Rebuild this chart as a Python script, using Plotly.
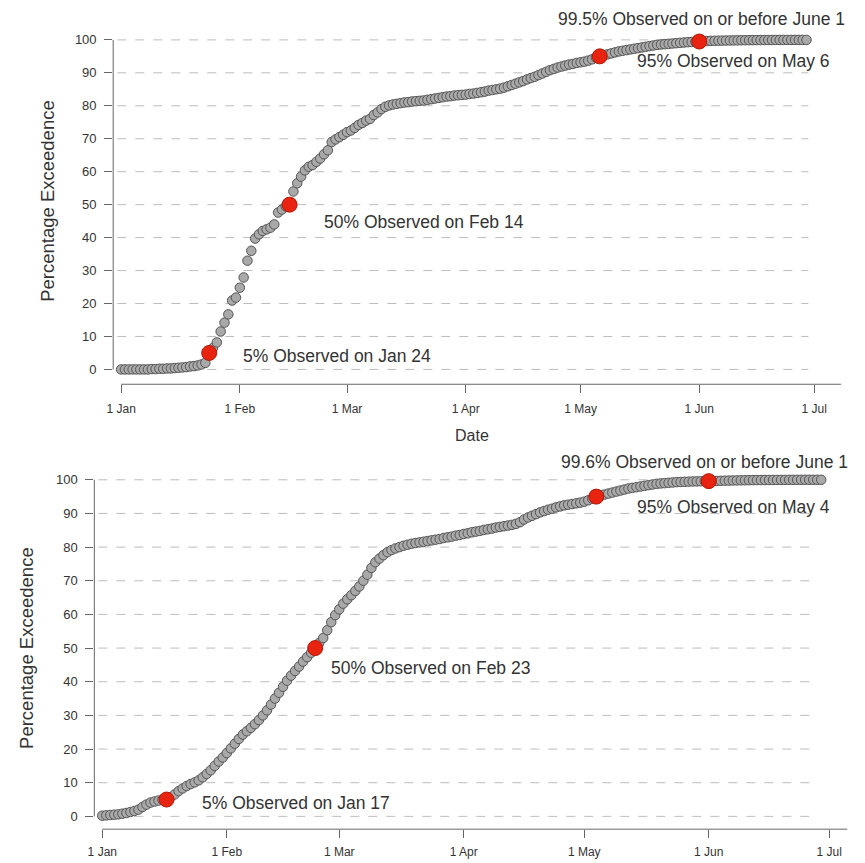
import pandas as pd
import plotly.graph_objects as go

# --- data (daily % exceedence) ---
START = "2015-01-01"

top_values = [
    0, 0, 0, 0, 0, 0, 0, 0, 0.1, 0.1, 0.2, 0.2, 0.3, 0.3, 0.4, 0.5, 0.6, 0.7, 0.9, 1.0, 1.2, 1.5, 2.0,
    5,
    6.5, 8.2, 11.5, 14.2, 16.7, 20.9, 21.8, 24.8, 27.9, 33, 36, 39.7, 41, 42, 42.5, 43, 44, 47.6, 48.5, 49.5, 50,
    54, 56.5, 58.5, 60.4, 61.5, 62, 63, 64, 65.3, 66.5, 69, 69.8, 70.5, 71.2, 72, 72.5, 73.3, 74.2, 74.8, 75.5,
    76, 77.2, 78, 79, 79.7,
    80.1, 80.4, 80.6, 80.8, 81, 81.1, 81.3, 81.4, 81.5, 81.6, 81.8, 82, 82.2, 82.4, 82.6, 82.8, 82.9, 83.1, 83.2,
    83.3, 83.4, 83.6, 83.7, 83.9, 84.1, 84.3, 84.6, 84.8, 85, 85.2,
    85.5, 85.9, 86.3, 86.7, 87.1, 87.5, 88, 88.4, 88.8, 89.3, 89.8, 90.3, 90.8, 91.2, 91.6, 91.9, 92.2, 92.5,
    92.7, 93, 93.2, 93.4, 93.7, 94.1, 94.6, 95,
    95.3, 95.6, 95.9, 96.2, 96.5, 96.7, 96.9, 97.1, 97.3, 97.5, 97.7, 97.9, 98.1, 98.3, 98.5, 98.6, 98.7, 98.8,
    98.9, 99, 99.1, 99.2, 99.3, 99.35, 99.4, 99.5,
    99.6, 99.65, 99.7, 99.72, 99.75, 99.78, 99.8, 99.82, 99.84, 99.86, 99.88, 99.9, 99.91, 99.92, 99.93, 99.94,
    99.95, 99.96, 99.97, 99.97, 99.98, 99.98, 99.99, 99.99, 100, 100, 100, 100,
]

bottom_values = [
    0.2, 0.3, 0.4, 0.5, 0.6, 0.8, 1.0, 1.3, 1.6, 2.0, 2.8, 3.5, 4.1, 4.4, 4.7, 4.9,
    5,
    5.7, 6.5, 7.5, 8.3, 9.0, 9.6, 10.1, 10.7, 11.6, 12.6, 13.7, 15, 16.3, 17.5, 18.8, 20.2, 21.6, 23, 24.3, 25.3,
    26.3, 27.4, 28.6, 30, 31.5, 33.2, 35, 36.7, 38.5, 40.3, 41.8, 43.2, 44.5, 46, 47.3, 48.6,
    50,
    51.5, 53, 55.3, 57.7, 59.8, 61.5, 63.2, 64.5, 65.7, 67, 68.3, 70, 71.8, 73.8, 75.5, 76.6, 77.6, 78.5, 79.1,
    79.6, 80, 80.4, 80.7, 81, 81.2, 81.4, 81.6, 81.8, 82, 82.2, 82.4, 82.7, 82.9, 83.1, 83.4, 83.6, 83.9, 84.1,
    84.4, 84.6, 84.8, 85.1, 85.3, 85.5, 85.8, 86, 86.2, 86.4, 86.6, 86.9,
    87.4, 88.2, 88.8, 89.3, 89.8, 90.3, 90.7, 91.1, 91.4, 91.8, 92.1, 92.4, 92.6, 92.8, 93, 93.2, 93.5, 93.9, 94.4,
    95,
    95.3, 95.6, 95.9, 96.2, 96.5, 96.8, 97.1, 97.4, 97.6, 97.8, 98, 98.2, 98.4, 98.6, 98.8, 98.9, 99, 99.1, 99.2,
    99.3, 99.35, 99.4, 99.45, 99.5, 99.52, 99.55, 99.58,
    99.6,
    99.63, 99.66, 99.7, 99.73, 99.76, 99.79, 99.82, 99.84, 99.86, 99.88, 99.9, 99.91, 99.92, 99.93, 99.94, 99.95,
    99.96, 99.97, 99.97, 99.98, 99.98, 99.99, 99.99, 100, 100, 100, 100, 100,
]

top_mark_dates = ["2015-01-24", "2015-02-14", "2015-05-06", "2015-06-01"]
top_mark_values = [5, 50, 95, 99.5]
top_mark_labels = ["5% Observed on Jan 24", "50% Observed on Feb 14",
                   "95% Observed on May 6", "99.5% Observed on or before June 1"]

bottom_mark_dates = ["2015-01-17", "2015-02-23", "2015-05-04", "2015-06-01"]
bottom_mark_values = [5, 50, 95, 99.6]
bottom_mark_labels = ["5% Observed on Jan 17", "50% Observed on Feb 23",
                      "95% Observed on May 4", "99.6% Observed on or before June 1"]

tick_dates = ["2015-01-01", "2015-02-01", "2015-03-01", "2015-04-01",
              "2015-05-01", "2015-06-01", "2015-07-01"]
tick_text = ["1 Jan", "1 Feb", "1 Mar", "1 Apr", "1 May", "1 Jun", "1 Jul"]
y_ticks = list(range(0, 101, 10))

# --- style ---
# page body keeps an 8px margin, so the figure is a bit smaller than the window
OFF = 8
W, H = 865 - OFF, 863 - OFF
FONT = "Liberation Sans, Arial, sans-serif"
GREY_FILL = "#a9a9a9"
GREY_EDGE = "#555555"
RED_FILL = "#e8230f"
RED_EDGE = "#b01808"
AXIS_COL = "#666666"
TEXT_COL = "#333333"
GRID_COL = "#bdbdbd"

top_dates = pd.date_range(START, periods=len(top_values))
bottom_dates = pd.date_range(START, periods=len(bottom_values))
t0 = pd.Timestamp(START)


def day(d):
    return t0 + pd.Timedelta(days=d)


def px(x, y):
    """reference-screenshot pixel -> paper coords"""
    return (x - OFF) / W, 1 - (y - OFF) / H


fig = go.Figure()

panels = [
    dict(xa="x", ya="y", dates=top_dates, vals=top_values,
         md=top_mark_dates, mv=top_mark_values),
    dict(xa="x2", ya="y2", dates=bottom_dates, vals=bottom_values,
         md=bottom_mark_dates, mv=bottom_mark_values),
]

for p in panels:
    fig.add_trace(go.Scatter(
        x=p["dates"], y=p["vals"], mode="markers",
        xaxis=p["xa"], yaxis=p["ya"],
        marker=dict(size=9.5, color=GREY_FILL, line=dict(color=GREY_EDGE, width=1)),
        cliponaxis=False, showlegend=False, hoverinfo="x+y",
    ))
    fig.add_trace(go.Scatter(
        x=p["md"], y=p["mv"], mode="markers",
        xaxis=p["xa"], yaxis=p["ya"],
        marker=dict(size=15, color=RED_FILL, line=dict(color=RED_EDGE, width=1)),
        cliponaxis=False, showlegend=False, hoverinfo="x+y",
    ))

# dashed horizontal grid + R-style detached axis lines
grid_spans = [("x", "y", day(-1), day(179.5), day(188)),
              ("x2", "y2", day(-1), day(177.5), day(185.5))]
shapes = []
for xa, ya, g0, g1, xend in grid_spans:
    for v in y_ticks:
        shapes.append(dict(type="line", xref=xa, yref=ya, x0=g0, x1=g1, y0=v, y1=v,
                           line=dict(color=GRID_COL, width=1, dash="dash"), layer="below"))
    shapes.append(dict(type="line", xref=xa + " domain", yref=ya, x0=0, x1=0, y0=0, y1=100,
                       line=dict(color=AXIS_COL, width=1)))
    shapes.append(dict(type="line", xref=xa, yref=ya + " domain", x0=day(0), x1=xend, y0=0, y1=0,
                       line=dict(color=AXIS_COL, width=1)))

annotations = []
# label anchor points (left edge, vertical centre) in reference pixels
top_label_pos = [(236, 354), (318, 219), (633, 57), (553, 15)]
bottom_label_pos = [(195, 803), (325, 667), (633, 505), (556, 460)]
for labels, pos in [(top_mark_labels, top_label_pos), (bottom_mark_labels, bottom_label_pos)]:
    for text, (x, y) in zip(labels, pos):
        ax, ay = px(x, y)
        annotations.append(dict(text=text, x=ax, y=ay, xref="paper", yref="paper",
                                xanchor="left", yanchor="middle", showarrow=False,
                                font=dict(size=17.5, color=TEXT_COL, family=FONT)))

for (x, y) in [(40, 198), (19, 647)]:
    ax, ay = px(x, y)
    annotations.append(dict(text="Percentage Exceedence", x=ax, y=ay, xref="paper", yref="paper",
                            textangle=-90, showarrow=False, xanchor="center", yanchor="middle",
                            font=dict(size=18.5, color=TEXT_COL, family=FONT)))

ax, ay = px(469, 433)
annotations.append(dict(text="Date", x=ax, y=ay, xref="paper", yref="paper", showarrow=False,
                        font=dict(size=16, color=TEXT_COL, family=FONT)))

xcommon = dict(type="date", tickmode="array", tickvals=tick_dates, ticktext=tick_text,
               showgrid=False, zeroline=False, showline=False,
               ticks="outside", ticklen=8, tickcolor=AXIS_COL, tickwidth=1,
               tickfont=dict(size=12, color=TEXT_COL, family=FONT), fixedrange=True)
ycommon = dict(tickmode="array", tickvals=y_ticks, showgrid=False, zeroline=False, showline=False,
               ticks="outside", ticklen=8, tickcolor=AXIS_COL, tickwidth=1, ticklabelstandoff=5,
               tickfont=dict(size=13, color=TEXT_COL, family=FONT), fixedrange=True)

x1_dom = [px(107, 0)[0], px(845, 0)[0]]
y1_dom = [px(0, 382)[1], px(0, 32.7)[1]]
x2_dom = [px(88, 0)[0], px(850, 0)[0]]
y2_dom = [px(0, 829)[1], px(0, 474.6)[1]]

fig.update_layout(
    width=W, height=H,
    paper_bgcolor="white", plot_bgcolor="white",
    margin=dict(l=0, r=0, t=0, b=0),
    font=dict(family=FONT, color=TEXT_COL),
    xaxis=dict(**xcommon, domain=x1_dom, anchor="y",
               range=[day(-2.07), day(189.1)], ticklabelstandoff=5),
    yaxis=dict(**ycommon, domain=y1_dom, anchor="x", range=[-4.5, 101]),
    xaxis2=dict(**xcommon, domain=x2_dom, anchor="y2",
                range=[day(-1.98), day(186.2)], ticklabelstandoff=3),
    yaxis2=dict(**ycommon, domain=y2_dom, anchor="x2", range=[-3.8, 101]),
    shapes=shapes,
    annotations=annotations,
)

fig.write_html("out.html")
